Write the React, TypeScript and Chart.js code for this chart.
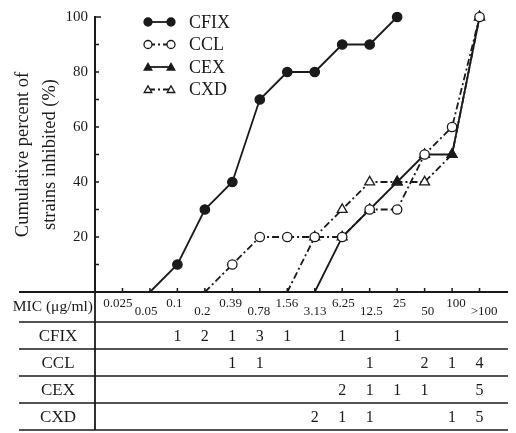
import { useEffect, useRef } from 'react';
import { Chart, registerables } from 'chart.js';

Chart.register(...registerables);

// MIC categories (µg/ml)
const micLabels = ['0.025', '0.05', '0.1', '0.2', '0.39', '0.78', '1.56', '3.13', '6.25', '12.5', '25', '50', '100', '>100'];

// Cumulative percent of strains inhibited (null = no point)
const cfixCum = [null, 0, 10, 30, 40, 70, 80, 80, 90, 90, 100, null, null, null];
const cclCum = [null, null, null, 0, 10, 20, 20, 20, 20, 30, 30, 50, 60, 100];
const cexCum = [null, null, null, null, null, null, null, 0, 20, 30, 40, 50, 50, 100];
const cxdCum = [null, null, null, null, null, null, 0, 20, 30, 40, 40, 40, 50, 100];

// Number of strains per MIC (table below the plot; null = blank)
const cfixCount = [null, null, 1, 2, 1, 3, 1, null, 1, null, 1, null, null, null];
const cclCount = [null, null, null, null, 1, 1, null, null, null, 1, null, 2, 1, 4];
const cexCount = [null, null, null, null, null, null, null, null, 2, 1, 1, 1, null, 5];
const cxdCount = [null, null, null, null, null, null, null, 2, 1, 1, null, null, 1, 5];

const seriesNames = ['CFIX', 'CCL', 'CEX', 'CXD'];
const yTickLabels = [20, 40, 60, 80, 100];

const SERIF = '"Liberation Serif", "Times New Roman", serif';
const INK = '#1a1a1a';
const DASHDOT = [7, 3, 2, 3];

function drawMarker(ctx: CanvasRenderingContext2D, style: string, filled: boolean, x: number, y: number, r: number) {
  ctx.save();
  ctx.setLineDash([]);
  ctx.beginPath();
  if (style === 'circle') {
    ctx.arc(x, y, r, 0, Math.PI * 2);
  } else {
    for (let k = 0; k < 3; k++) {
      const a = (k * 2 * Math.PI) / 3;
      const px = x + Math.sin(a) * r * 1.1;
      const py = y - Math.cos(a) * r * 1.1 + r * 0.2;
      if (k === 0) ctx.moveTo(px, py);
      else ctx.lineTo(px, py);
    }
    ctx.closePath();
  }
  ctx.fillStyle = filled ? INK : '#fff';
  ctx.fill();
  ctx.lineWidth = 1.3;
  ctx.strokeStyle = INK;
  ctx.stroke();
  ctx.restore();
}

export default function App() {
  const ref = useRef<HTMLCanvasElement>(null);

  useEffect(() => {
    document.body.style.margin = '0';
    const canvas = ref.current;
    if (!canvas) return;

    const toPts = (arr: (number | null)[]) =>
      arr.map((v, i) => (v === null ? null : { x: i, y: v })).filter((p) => p !== null) as { x: number; y: number }[];

    const counts = [cfixCount, cclCount, cexCount, cxdCount];

    const mk = (label: string, data: (number | null)[], style: string, filled: boolean, dashed: boolean) => ({
      label,
      data: toPts(data),
      borderColor: INK,
      borderWidth: 1.8,
      borderDash: dashed ? DASHDOT : [],
      backgroundColor: filled ? INK : '#fff',
      pointBackgroundColor: filled ? INK : '#fff',
      pointBorderColor: INK,
      pointBorderWidth: 1.3,
      pointStyle: style,
      pointRadius: (c: any) => (c.raw && c.raw.y === 0 ? 0 : style === 'circle' ? 4.7 : 5.7),
      tension: 0,
      fill: false,
      clip: false,
      _filled: filled,
    });

    const tablePlugin = {
      id: 'micTable',
      afterDraw(chart: any) {
        const { ctx, chartArea } = chart;
        const xs = chart.scales.x;
        const ys = chart.scales.y;
        const left = chartArea.left;
        const bottom = chartArea.bottom;
        const tableLeft = 19;
        const tableRight = 508;
        const headerBottom = bottom + 30;
        const rowH = 27;
        ctx.save();
        ctx.strokeStyle = INK;

        // inward y ticks
        ctx.lineWidth = 1.5;
        ys.ticks.forEach((t: any) => {
          const py = ys.getPixelForValue(t.value);
          if (t.value === 0) return;
          ctx.beginPath();
          ctx.moveTo(left, py);
          ctx.lineTo(left + (t.value === 100 ? 6 : 4), py);
          ctx.stroke();
        });

        // x axis line + inward ticks
        ctx.lineWidth = 2;
        ctx.beginPath();
        ctx.moveTo(tableLeft, bottom);
        ctx.lineTo(tableRight, bottom);
        ctx.stroke();
        ctx.lineWidth = 1.5;
        micLabels.forEach((_, i) => {
          const px = xs.getPixelForValue(i);
          ctx.beginPath();
          ctx.moveTo(px, bottom);
          ctx.lineTo(px, bottom - 4);
          ctx.stroke();
        });

        // horizontal table lines
        const rowLines = [headerBottom, headerBottom + rowH, headerBottom + 2 * rowH, headerBottom + 3 * rowH, headerBottom + 4 * rowH];
        ctx.lineWidth = 1.6;
        rowLines.forEach((ly) => {
          ctx.beginPath();
          ctx.moveTo(tableLeft, ly);
          ctx.lineTo(tableRight, ly);
          ctx.stroke();
        });
        // vertical divider
        ctx.lineWidth = 1.8;
        ctx.beginPath();
        ctx.moveTo(left, bottom);
        ctx.lineTo(left, rowLines[rowLines.length - 1]);
        ctx.stroke();

        // MIC header labels (staggered)
        ctx.fillStyle = INK;
        ctx.textBaseline = 'middle';
        ctx.textAlign = 'right';
        ctx.font = `15.5px ${SERIF}`;
        ctx.fillText('MIC (\u03bcg/ml)', left - 2, bottom + 15);
        ctx.textAlign = 'center';
        ctx.font = `13px ${SERIF}`;
        micLabels.forEach((lab, i) => {
          const px = xs.getPixelForValue(i);
          ctx.fillText(lab, px + (i - 6.5) * 0.7, bottom + (i % 2 === 0 ? 12 : 20));
        });

        // rows
        seriesNames.forEach((name, r) => {
          const cy = rowLines[r] + rowH / 2;
          ctx.font = `17px ${SERIF}`;
          ctx.textAlign = 'center';
          ctx.fillText(name, 58, cy + 1);
          ctx.font = `16px ${SERIF}`;
          counts[r].forEach((c, i) => {
            if (c === null) return;
            ctx.fillText(String(c), xs.getPixelForValue(i), cy + 1);
          });
        });

        // legend
        chart.data.datasets.forEach((ds: any, k: number) => {
          const ly = 22 + k * 22.5;
          ctx.save();
          ctx.lineWidth = 1.8;
          ctx.setLineDash(ds.borderDash || []);
          ctx.beginPath();
          ctx.moveTo(148, ly);
          ctx.lineTo(171, ly);
          ctx.stroke();
          ctx.restore();
          drawMarker(ctx, ds.pointStyle, ds._filled, 148, ly, 4);
          drawMarker(ctx, ds.pointStyle, ds._filled, 171, ly, 4);
          ctx.fillStyle = INK;
          ctx.font = `18px ${SERIF}`;
          ctx.textAlign = 'left';
          ctx.textBaseline = 'middle';
          ctx.fillText(ds.label, 189, ly + 1);
        });
        ctx.restore();
      },
    };

    const chart = new Chart(canvas, {
      type: 'line',
      data: {
        datasets: [
          mk('CFIX', cfixCum, 'circle', true, false),
          mk('CCL', cclCum, 'circle', false, true),
          mk('CEX', cexCum, 'triangle', true, false),
          mk('CXD', cxdCum, 'triangle', false, true),
        ] as any,
      },
      options: {
        responsive: false,
        animation: false,
        devicePixelRatio: 1,
        layout: { padding: { left: 0, right: 9, top: 17, bottom: 141 } },
        plugins: { legend: { display: false }, tooltip: { enabled: false }, title: { display: false } },
        scales: {
          x: {
            type: 'linear',
            min: -1,
            max: micLabels.length,
            display: false,
          },
          y: {
            min: 0,
            max: 100,
            afterFit: (s: any) => {
              s.width = 95;
            },
            grid: { display: false, drawTicks: false },
            border: { display: true, color: INK, width: 2 },
            ticks: {
              stepSize: 10,
              autoSkip: false,
              padding: 7,
              color: INK,
              font: { family: SERIF, size: 15 },
              callback: (v: any) => (yTickLabels.includes(Number(v)) ? String(v) : ''),
            },
            title: {
              display: true,
              text: ['Cumulative percent of', 'strains inhibited (%)'],
              color: INK,
              font: { family: SERIF, size: 18.5, lineHeight: 1.5 },
              padding: { top: 9, bottom: 0 },
            },
          },
        },
      },
      plugins: [tablePlugin],
    });

    return () => chart.destroy();
  }, []);

  return (
    <div style={{ width: 516, height: 433 }}>
      <canvas ref={ref} width={516} height={433} style={{ display: 'block' }} />
    </div>
  );
}
